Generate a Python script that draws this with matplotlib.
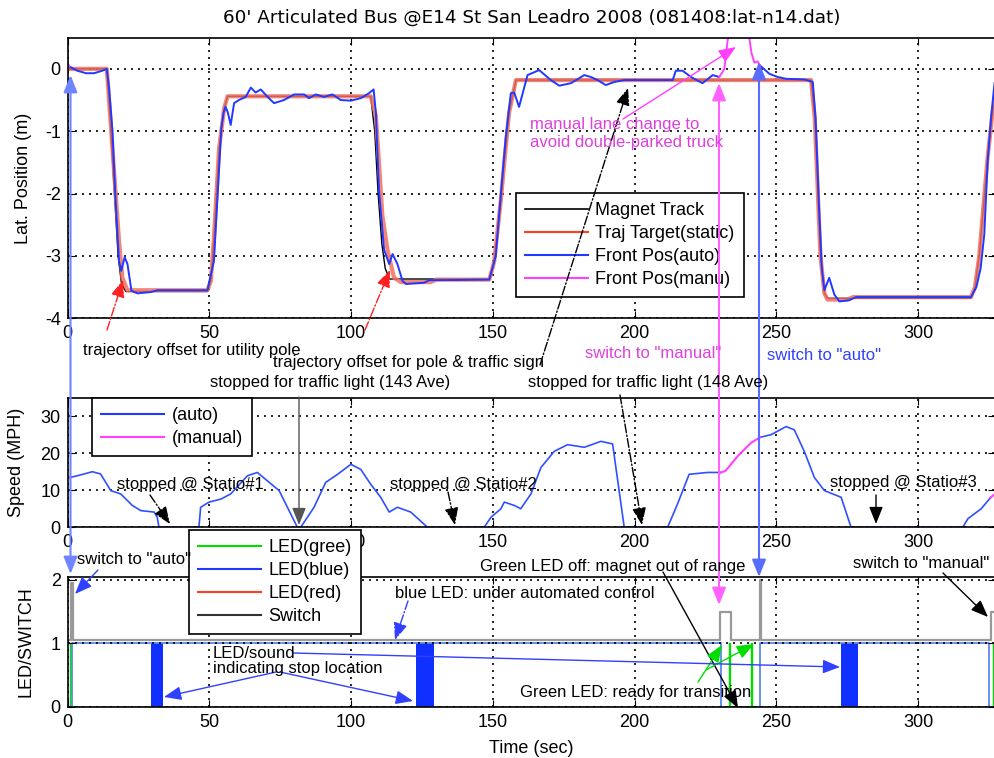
import numpy as np
import matplotlib
matplotlib.use("Agg")
import matplotlib.pyplot as plt
from matplotlib.lines import Line2D
from matplotlib.patches import FancyArrowPatch

plt.rcParams['font.family'] = ['Liberation Sans', 'DejaVu Sans']
plt.rcParams['font.size'] = 13
plt.rcParams['axes.unicode_minus'] = False

nan = np.nan

# ---- lateral position (m) ----
mag_t = [0, 13.8, 15.0, 16.5, 17.8, 19.0, 20.5, 49.3, 50.5, 51.6, 53.4, 55.2, 56.4, 106.9, 108.3, 109.5,
         110.8, 112.0, 113.5, 148.7, 150.4, 151.6, 152.8, 154.0, 155.7, 158.1, 262.2, 263.5, 264.5, 265.5,
         266.9, 268.0, 318.6, 320.0, 321.5, 323.0, 324.5, 326.3, 327]
mag_y = [0, 0, -0.8, -2.0, -3.0, -3.45, -3.57, -3.57, -3.4, -2.7, -1.28, -0.63, -0.44, -0.44, -1.0, -2.0,
         -2.8, -3.2, -3.37, -3.37, -3.1, -2.6, -2.1, -1.5, -0.7, -0.18, -0.18, -0.8, -1.9, -3.0,
         -3.6, -3.68, -3.68, -3.5, -3.0, -2.2, -1.4, -0.67, -0.5]

tgt_t = [0, 13.8, 14.6, 16.3, 18.1, 19.3, 21.1, 49.3, 50.5, 51.6, 53.4, 55.2, 56.4, 106.9, 108.7, 109.8,
         111.0, 112.8, 115.1, 117.5, 128.0, 130.0, 148.7, 150.4, 151.6, 152.8, 154.0, 155.7, 158.1, 262.2,
         263.5, 264.5, 265.5, 266.9, 268.0, 275.0, 277.0, 318.6, 320.0, 321.5, 323.0, 324.5, 326.3, 327]
tgt_y = [0, 0, -0.5, -1.6, -2.75, -3.35, -3.55, -3.55, -3.4, -2.7, -1.28, -0.63, -0.44, -0.44, -0.75, -1.5,
         -2.35, -2.9, -3.35, -3.42, -3.42, -3.38, -3.38, -3.1, -2.6, -2.1, -1.5, -0.7, -0.18, -0.18,
         -0.8, -1.9, -3.0, -3.6, -3.7, -3.7, -3.66, -3.66, -3.5, -3.0, -2.2, -1.4, -0.67, -0.5]

auto_t = [0.5, 3.4, 6.5, 9.3, 12.2, 13.8, 14.6, 15.8, 16.9, 18.1, 18.9, 20.1, 21.1, 22.5, 24.6, 29.3, 31.6,
          49.3, 51.6, 52.8, 54.2, 55.0, 55.7, 56.5, 57.5, 58.7, 60.4, 62.8, 64.6, 66.3, 68.1, 70.5, 72.8,
          76.3, 79.9, 83.4, 85.1, 87.5, 90.4, 93.4, 96.3, 99.9, 103.4, 106.3, 107.9, 108.7, 109.8, 111.6,
          113.4, 114.6, 116.3, 118.1, 119.3, 125.7, 127.5, 148.7, 151.0, 152.8, 154.5, 156.3, 157.5, 159.2,
          162.2, 166.3, 170.4, 173.4, 177.5, 180.4, 182.2, 184.5, 186.9, 189.8, 192.8, 196.3, 213.4, 214.5,
          216.9, 219.8, 223.9, 227.5, 229.8, nan, 244.3, 247.5, 250.4, 253.4, 259.8, 262.8, 263.8, 265.0,
          266.0, 266.9, 268.6, 270.4, 272.2, 275.7, 278.0, 318.6, 320.5, 322.0, 323.3, 324.5, 325.7, 326.9]
auto_y = [0.04, -0.03, -0.07, -0.07, -0.03, 0.0, -0.3, -1.0, -2.1, -3.08, -3.24, -3.02, -3.13, -3.56, -3.6,
          -3.58, -3.55, -3.55, -3.08, -2.1, -0.95, -0.7, -0.61, -0.7, -0.9, -0.55, -0.5, -0.45, -0.3, -0.38,
          -0.33, -0.45, -0.55, -0.5, -0.41, -0.41, -0.47, -0.41, -0.45, -0.41, -0.5, -0.51, -0.47, -0.39,
          -0.33, -0.7, -1.95, -2.9, -3.13, -2.97, -3.13, -3.4, -3.45, -3.43, -3.39, -3.38, -3.0, -2.0, -1.1,
          -0.39, -0.38, -0.61, -0.1, -0.02, -0.18, -0.27, -0.23, -0.15, -0.1, -0.13, -0.18, -0.26, -0.21,
          -0.18, -0.18, -0.03, -0.03, -0.13, -0.23, -0.1, -0.13, nan, 0.05, -0.08, -0.13, -0.16, -0.17, -0.21,
          -0.8, -2.2, -3.2, -3.55, -3.35, -3.62, -3.73, -3.71, -3.66, -3.66, -3.5, -3.2, -2.65, -1.47,
          -0.77, -0.23]

manu_t = [0, 0.5, nan, 229.8, 231.0, 231.6, 232.4, 233.0, 234.0, 238.0, 240.0, 240.4, 241.2, 242.2, 243.3, 244.3]
manu_y = [0.1, 0.04, nan, -0.13, -0.05, 0.0, 0.3, 0.55, 1.2, 1.5, 0.7, 0.5, 0.25, 0.1, 0.12, 0.05]

# ---- speed (MPH) ----
spd_auto_t = [0.5, 3.4, 8.7, 11.6, 15.2, 18.7, 22.8, 25.8, 30.5, 31.6, 32.2, 46.3, 46.9, 49.9, 54.0, 57.5,
              63.4, 66.9, 70.5, 74.6, 77.5, 81.0, 82.2, 86.9, 91.0, 95.2, 99.9, 103.4, 106.9, 110.4, 113.4,
              116.3, 121.0, 126.9, 146.9, 149.3, 152.8, 154.0, 157.5, 159.8, 163.4, 166.9, 171.6, 176.3,
              182.2, 188.1, 192.2, 196.3, 211.6, 215.1, 219.2, 225.7, 230.4, nan, 244.3, 248.1, 253.4, 256.3,
              259.8, 263.4, 266.9, 272.8, 276.3, 315.7, 317.5, 322.2, 325.5]
spd_auto_v = [13.4, 13.9, 15.0, 14.4, 9.9, 9.0, 5.9, 4.5, 4.1, 2.7, 0, 0, 5.4, 6.8, 7.6, 9.0,
              13.9, 14.8, 12.5, 9.9, 5.4, 0, 0, 5.4, 12.1, 14.3, 17.0, 15.6, 11.6, 8.1, 4.1,
              5.4, 4.1, 0, 0, 2.7, 5.0, 6.8, 5.9, 5.0, 9.0, 16.1, 20.5, 22.3,
              21.6, 23.2, 22.5, 0, 0, 6.3, 14.3, 14.8, 14.8, nan, 24.3, 25.0, 27.2, 26.3,
              20.5, 13.4, 9.9, 8.1, 0, 0, 2.3, 5.0, 8.0]
spd_manu_t = [0, 0.5, nan, 230.4, 232.0, 236.3, 241.0, 244.3, nan, 325.5, 327]
spd_manu_v = [13.4, 13.4, nan, 14.8, 15.2, 19.2, 22.8, 24.3, nan, 8.0, 9.0]

# ---- LED / switch ----
stop_led_on = [29.3, 122.8, 272.8]
stop_led_off = [33.8, 129.2, 278.6]
blue_t = [0, 1.6, 230.4, 244.3, 325.0, 327]
blue_v = [0, 1, 0, 1, 0, 0]
green_t = [0, 0.8, 233.3, 233.6, 240.9, 241.2, 326.3, 327]
green_v = [1, 0, 1, 0, 1, 0, 1, 1]
red_t = [0, 327]
red_v = [0, 0]
sw_t = [0, 1.3, 2.0, 230.2, 233.9, 244.1, 244.6, 325.6, 327]
sw_v = [1.05, 1.95, 1.05, 1.5, 1.05, 2.0, 1.05, 1.5, 1.5]

BLUE = '#2038ff'
MAG = '#ff40ff'
RED = '#ff4020'
GREEN = '#00dd00'


def style(ax):
    ax.set_xlim(0, 327)
    ax.set_xticks(range(0, 301, 50))
    ax.grid(True, color='k', linestyle=(0, (1.2, 3)), linewidth=1.2)
    ax.tick_params(direction='in', top=True, right=True, length=5, labelsize=13, pad=5)
    for s in ax.spines.values():
        s.set_linewidth(1.2)
        s.set_zorder(5)


def legend(ax, handles, labels, x, y):
    lg = ax.legend(handles, labels, loc='upper left', bbox_to_anchor=(x / 995, 1 - y / 758),
                   bbox_transform=fig.transFigure, fancybox=False, edgecolor='black', framealpha=1,
                   borderaxespad=0, borderpad=0.5, handlelength=3.5, handletextpad=0.4,
                   labelspacing=0.33, fontsize=13)
    lg.get_frame().set_linewidth(1.2)
    lg.set_zorder(10)
    return lg


fig = plt.figure(figsize=(9.95, 7.58), dpi=100)
L, W = 0.0680, 0.9318
ax1 = fig.add_axes([L, 0.5801, W, 0.3702])
ax2 = fig.add_axes([L, 0.3044, W, 0.1710])
ax3 = fig.add_axes([L, 0.0677, W, 0.1707])

# top: lateral position
ax1.plot(mag_t, mag_y, color='black', lw=1.0)
ax1.plot(tgt_t, tgt_y, color='#f07060', lw=3, alpha=0.85)
ax1.plot(auto_t, auto_y, color=BLUE, lw=1.4)
ax1.plot(manu_t, manu_y, color=MAG, lw=1.4)
ax1.set_ylim(-4, 0.5)
ax1.set_yticks([-4, -3, -2, -1, 0])
style(ax1)
ax1.set_ylabel('Lat. Position (m)')
ax1.yaxis.set_label_coords(-0.0385, 0.5)
legend(ax1, [Line2D([], [], color='black', lw=1.2), Line2D([], [], color=RED, lw=1.5),
             Line2D([], [], color=BLUE, lw=1.5), Line2D([], [], color=MAG, lw=1.5)],
       ['Magnet Track', 'Traj Target(static)', 'Front Pos(auto)', 'Front Pos(manu)'], 516, 193)

# middle: speed
ax2.plot(spd_auto_t, spd_auto_v, color='#3050ff', lw=1.2)
ax2.plot(spd_manu_t, spd_manu_v, color=MAG, lw=1.5)
ax2.set_ylim(0, 35)
ax2.set_yticks([0, 10, 20, 30])
style(ax2)
ax2.set_ylabel('Speed (MPH)')
ax2.yaxis.set_label_coords(-0.046, 0.5)
legend(ax2, [Line2D([], [], color=BLUE, lw=1.5), Line2D([], [], color=MAG, lw=1.5)],
       ['(auto)', '(manual)'], 92, 398)

# bottom: LED / switch
centers = np.add(stop_led_on, stop_led_off) / 2
widths = np.subtract(stop_led_off, stop_led_on)
ax3.bar(centers, 1.0, width=widths, color='#1030ff', zorder=2)
ax3.step(red_t, red_v, where='post', color=RED, lw=1.0)
ax3.step(blue_t, blue_v, where='post', color='#5a86ee', lw=1.3)
ax3.step(green_t, green_v, where='post', color=GREEN, lw=1.0)
ax3.step(sw_t, sw_v, where='post', color='#999999', lw=1.6)
ax3.set_ylim(0, 2.04)
ax3.set_yticks([0, 1, 2])
style(ax3)
ax3.set_axisbelow(False)
ax3.set_ylabel('LED/SWITCH')
ax3.yaxis.set_label_coords(-0.0353, 0.5)
ax3.set_xlabel('Time (sec)', labelpad=7)
legend(ax3, [Line2D([], [], color=GREEN, lw=1.5), Line2D([], [], color=BLUE, lw=1.5),
             Line2D([], [], color=RED, lw=1.5), Line2D([], [], color='#333333', lw=1.5)],
       ['LED(gree)', 'LED(blue)', 'LED(red)', 'Switch'], 189, 530)

fig.text(531.5 / 995, 1 - 18 / 758, "60' Articulated Bus @E14 St San Leadro 2008 (081408:lat-n14.dat)",
         ha='center', va='center', fontsize=13.2, family='DejaVu Sans')

# annotation layer in pixel coordinates
ov = fig.add_axes([0, 0, 1, 1], zorder=20)
ov.set_xlim(0, 995)
ov.set_ylim(758, 0)
ov.axis('off')


def arrow(x0, y0, x1, y1, color, ls='-', lw=1.0, both=False):
    style_ = '<|-|>' if both else '-|>'
    ov.add_patch(FancyArrowPatch((x0, y0), (x1, y1),
                                 arrowstyle=style_ + ',head_length=0.75,head_width=0.3',
                                 mutation_scale=14, color=color, lw=lw, linestyle=ls,
                                 shrinkA=0, shrinkB=0))


def note(x, y, s, color='black', size=12):
    ov.text(x, y, s, ha='left', va='center', color=color, fontsize=size)


TXT_MAG = '#dd40dd'
TXT_BLUE = '#3040ff'

# top panel notes
arrow(107, 330, 123, 280, '#ff2020', ls='-.')
arrow(365, 330, 390, 270, '#ff2020', ls='-.')
note(83, 350, 'trajectory offset for utility pole')
note(273, 363, 'trajectory offset for pole & traffic sign')
arrow(540, 365, 628, 88, 'black', ls='-.')
note(530, 125, 'manual lane change to', TXT_MAG)
note(530, 142, 'avoid double-parked truck', TXT_MAG)
arrow(623, 119, 736, 47, MAG)
arrow(719, 605, 719, 83, '#ff60ff', lw=1.5, both=True)
arrow(759, 577, 759, 62, '#5a6cff', lw=1.5, both=True)
arrow(70.5, 574, 70.5, 75, '#6f84ff', lw=1.5, both=True)
note(585, 353, 'switch to "manual"', TXT_MAG)
note(767, 356, 'switch to "auto"', TXT_BLUE)

# between top and middle
note(210, 383, 'stopped for traffic light (143 Ave)')
arrow(299, 397, 299, 525, '#555555')
note(528, 383, 'stopped for traffic light (148 Ave)')
arrow(620, 395, 642, 525, 'black', ls='-.')

# middle notes
note(117, 485, 'stopped @ Statio#1')
arrow(150, 495, 170, 524, 'black', ls='-.')
note(390, 485, 'stopped @ Statio#2')
arrow(448, 492, 455, 525, 'black', ls='-.')
note(830, 483, 'stopped @ Statio#3')
arrow(876, 495, 876, 524, 'black')

# bottom notes
note(77, 560, 'switch to "auto"')
arrow(98, 570, 75, 594, TXT_BLUE)
note(395, 593, 'blue LED: under automated control')
arrow(408, 601, 395, 640, TXT_BLUE, ls='-.')
note(480, 566, 'Green LED off: magnet out of range')
arrow(663, 572, 738, 708, 'black')
note(520, 693, 'Green LED: ready for transition')
arrow(698, 682, 722, 645, GREEN)
arrow(706, 670, 754, 644, GREEN)
note(853, 564, 'switch to "manual"')
arrow(943, 573, 988, 617, 'black')
note(213, 653, 'LED/sound')
note(213, 669, 'indicating stop location')
arrow(276, 672, 164, 697, TXT_BLUE)
arrow(280, 672, 413, 701, TXT_BLUE)
arrow(293, 653, 840, 667, TXT_BLUE)

fig.savefig('out.png', dpi=100)
